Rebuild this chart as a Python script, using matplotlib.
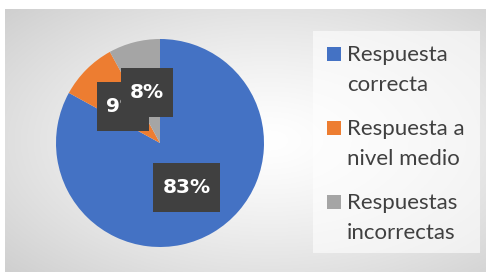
import numpy as np
import matplotlib.pyplot as plt
from matplotlib.patches import Rectangle
from matplotlib.path import Path

labels = ['Respuesta\ncorrecta', 'Respuesta a\nnivel medio', 'Respuestas\nincorrectas']
values = [83, 9, 8]
colors = ['#4472c4', '#ed7d31', '#a5a5a5']

W, H = 486, 272
fig = plt.figure(figsize=(W / 100, H / 100), dpi=100)
fig.patch.set_facecolor('white')

# gray radial background (chart area)
bg = fig.add_axes([5 / W, 0, 481 / W, 263 / H])
yy, xx = np.mgrid[0:1:200j, 0:1:300j]
r = np.sqrt(((xx - 0.55) / 0.75) ** 2 + ((yy - 0.5) / 0.75) ** 2)
shade = 1 - 0.19 * np.clip(r, 0, 1) ** 1.3
bg.imshow(np.dstack([shade] * 3), aspect='auto', extent=[0, 1, 0, 1])
bg.axis('off')

# legend background
fig.patches.append(Rectangle((313 / W, (H - 253) / H), 167 / W, 222 / H,
                             transform=fig.transFigure, facecolor='white',
                             alpha=0.6, edgecolor='none', zorder=1))


def label_box(x0, y0, width, height, mutation_size):
    px, py = 0.45 * mutation_size, 0.75 * mutation_size
    x0, y0 = x0 - px, y0 - py
    x1, y1 = x0 + width + 2 * px, y0 + height + 2 * py
    return Path([(x0, y0), (x1, y0), (x1, y1), (x0, y1), (x0, y0)], closed=True)


ax = fig.add_axes([56 / W, 25 / H, 208 / W, 208 / H])
wedges, texts, autotexts = ax.pie(values, colors=colors, startangle=90,
                                  counterclock=False, autopct='%d%%',
                                  pctdistance=0.5, radius=1,
                                  wedgeprops=dict(linewidth=0))
for t in autotexts:
    t.set_color('white')
    t.set_fontsize(14.5)
    t.set_fontweight('bold')
    t.set_bbox(dict(facecolor='#404040', edgecolor='none', boxstyle=label_box))
ax.set_xlim(-1, 1)
ax.set_ylim(-1, 1)
ax.set_aspect('equal')

# legend, markers aligned with first line of each label
for i, (lab, col) in enumerate(zip(labels, colors)):
    top = 47 + 74 * i
    fig.patches.append(Rectangle((327 / W, (H - top - 14) / H), 14 / W, 14 / H,
                                 transform=fig.transFigure, facecolor=col,
                                 edgecolor='none', zorder=2))
    for j, line in enumerate(lab.split('\n')):
        fig.text(347 / W, (H - top - 14 - 30 * j) / H, line, ha='left', va='baseline',
                 fontfamily='Lato', fontsize=16, color='#404040', zorder=3)

fig.savefig('out.png', dpi=100)
